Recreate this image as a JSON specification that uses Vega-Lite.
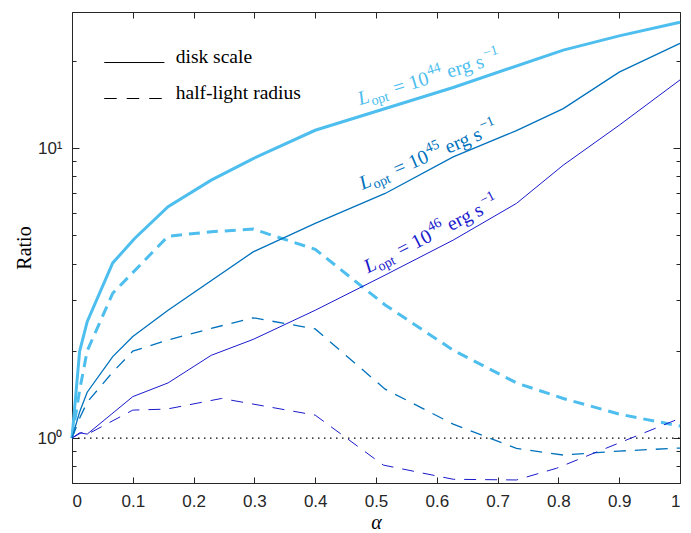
{
  "$schema": "https://vega.github.io/schema/vega-lite/v6.json",
  "width": 608,
  "height": 471,
  "autosize": {"type": "none"},
  "padding": {"left": 72, "top": 12, "right": 11, "bottom": 50},
  "background": "white",
  "config": {
    "view": {"stroke": "#262626", "strokeWidth": 1},
    "axis": {
      "grid": false,
      "domainColor": "#262626",
      "tickColor": "#262626",
      "labelColor": "#262626",
      "titleColor": "#000000",
      "labelFont": "Liberation Sans",
      "labelFontSize": 17,
      "domainWidth": 1,
      "tickWidth": 1
    }
  },
  "datasets": {
    "curves": [
      {"a": 0, "r": 1.0, "L": "L44", "k": "disk"},
      {"a": 0.0125, "r": 1.99, "L": "L44", "k": "disk"},
      {"a": 0.025, "r": 2.52, "L": "L44", "k": "disk"},
      {"a": 0.067, "r": 4.02, "L": "L44", "k": "disk"},
      {"a": 0.103, "r": 4.88, "L": "L44", "k": "disk"},
      {"a": 0.158, "r": 6.28, "L": "L44", "k": "disk"},
      {"a": 0.229, "r": 7.76, "L": "L44", "k": "disk"},
      {"a": 0.298, "r": 9.21, "L": "L44", "k": "disk"},
      {"a": 0.4, "r": 11.53, "L": "L44", "k": "disk"},
      {"a": 0.627, "r": 16.2, "L": "L44", "k": "disk"},
      {"a": 0.808, "r": 21.8, "L": "L44", "k": "disk"},
      {"a": 0.9, "r": 24.4, "L": "L44", "k": "disk"},
      {"a": 1.0, "r": 27.2, "L": "L44", "k": "disk"},

      {"a": 0, "r": 1.0, "L": "L44", "k": "half"},
      {"a": 0.0125, "r": 1.46, "L": "L44", "k": "half"},
      {"a": 0.025, "r": 2.0, "L": "L44", "k": "half"},
      {"a": 0.067, "r": 3.16, "L": "L44", "k": "half"},
      {"a": 0.158, "r": 4.97, "L": "L44", "k": "half"},
      {"a": 0.229, "r": 5.15, "L": "L44", "k": "half"},
      {"a": 0.298, "r": 5.26, "L": "L44", "k": "half"},
      {"a": 0.4, "r": 4.48, "L": "L44", "k": "half"},
      {"a": 0.515, "r": 2.88, "L": "L44", "k": "half"},
      {"a": 0.627, "r": 2.01, "L": "L44", "k": "half"},
      {"a": 0.731, "r": 1.55, "L": "L44", "k": "half"},
      {"a": 0.808, "r": 1.37, "L": "L44", "k": "half"},
      {"a": 0.9, "r": 1.21, "L": "L44", "k": "half"},
      {"a": 1.0, "r": 1.10, "L": "L44", "k": "half"},

      {"a": 0, "r": 1.0, "L": "L45", "k": "disk"},
      {"a": 0.0125, "r": 1.23, "L": "L45", "k": "disk"},
      {"a": 0.025, "r": 1.44, "L": "L45", "k": "disk"},
      {"a": 0.067, "r": 1.91, "L": "L45", "k": "disk"},
      {"a": 0.1, "r": 2.24, "L": "L45", "k": "disk"},
      {"a": 0.158, "r": 2.76, "L": "L45", "k": "disk"},
      {"a": 0.298, "r": 4.39, "L": "L45", "k": "disk"},
      {"a": 0.4, "r": 5.5, "L": "L45", "k": "disk"},
      {"a": 0.515, "r": 6.98, "L": "L45", "k": "disk"},
      {"a": 0.627, "r": 9.33, "L": "L45", "k": "disk"},
      {"a": 0.731, "r": 11.5, "L": "L45", "k": "disk"},
      {"a": 0.808, "r": 13.7, "L": "L45", "k": "disk"},
      {"a": 0.9, "r": 18.3, "L": "L45", "k": "disk"},
      {"a": 1.0, "r": 23.0, "L": "L45", "k": "disk"},

      {"a": 0, "r": 1.0, "L": "L45", "k": "half"},
      {"a": 0.0125, "r": 1.17, "L": "L45", "k": "half"},
      {"a": 0.025, "r": 1.33, "L": "L45", "k": "half"},
      {"a": 0.067, "r": 1.69, "L": "L45", "k": "half"},
      {"a": 0.1, "r": 1.995, "L": "L45", "k": "half"},
      {"a": 0.158, "r": 2.18, "L": "L45", "k": "half"},
      {"a": 0.229, "r": 2.39, "L": "L45", "k": "half"},
      {"a": 0.298, "r": 2.6, "L": "L45", "k": "half"},
      {"a": 0.4, "r": 2.38, "L": "L45", "k": "half"},
      {"a": 0.515, "r": 1.475, "L": "L45", "k": "half"},
      {"a": 0.627, "r": 1.117, "L": "L45", "k": "half"},
      {"a": 0.731, "r": 0.921, "L": "L45", "k": "half"},
      {"a": 0.808, "r": 0.874, "L": "L45", "k": "half"},
      {"a": 0.9, "r": 0.902, "L": "L45", "k": "half"},
      {"a": 1.0, "r": 0.924, "L": "L45", "k": "half"},

      {"a": 0, "r": 1.0, "L": "L46", "k": "disk"},
      {"a": 0.0125, "r": 1.043, "L": "L46", "k": "disk"},
      {"a": 0.025, "r": 1.032, "L": "L46", "k": "disk"},
      {"a": 0.1, "r": 1.39, "L": "L46", "k": "disk"},
      {"a": 0.158, "r": 1.55, "L": "L46", "k": "disk"},
      {"a": 0.229, "r": 1.93, "L": "L46", "k": "disk"},
      {"a": 0.298, "r": 2.19, "L": "L46", "k": "disk"},
      {"a": 0.4, "r": 2.76, "L": "L46", "k": "disk"},
      {"a": 0.515, "r": 3.65, "L": "L46", "k": "disk"},
      {"a": 0.627, "r": 4.82, "L": "L46", "k": "disk"},
      {"a": 0.731, "r": 6.45, "L": "L46", "k": "disk"},
      {"a": 0.808, "r": 8.74, "L": "L46", "k": "disk"},
      {"a": 0.9, "r": 12.0, "L": "L46", "k": "disk"},
      {"a": 1.0, "r": 17.2, "L": "L46", "k": "disk"},

      {"a": 0, "r": 1.0, "L": "L46", "k": "half"},
      {"a": 0.016, "r": 1.046, "L": "L46", "k": "half"},
      {"a": 0.027, "r": 1.035, "L": "L46", "k": "half"},
      {"a": 0.1, "r": 1.249, "L": "L46", "k": "half"},
      {"a": 0.156, "r": 1.259, "L": "L46", "k": "half"},
      {"a": 0.246, "r": 1.37, "L": "L46", "k": "half"},
      {"a": 0.4, "r": 1.2, "L": "L46", "k": "half"},
      {"a": 0.512, "r": 0.807, "L": "L46", "k": "half"},
      {"a": 0.627, "r": 0.721, "L": "L46", "k": "half"},
      {"a": 0.731, "r": 0.717, "L": "L46", "k": "half"},
      {"a": 0.797, "r": 0.787, "L": "L46", "k": "half"},
      {"a": 1.0, "r": 1.17, "L": "L46", "k": "half"}
    ],
    "labels": [
      {"a": 0.4737, "r": 14.07, "L": "L44", "sup": "44"},
      {"a": 0.478, "r": 7.17, "L": "L45", "sup": "45"},
      {"a": 0.487, "r": 3.70, "L": "L46", "sup": "46"}
    ],
    "legend": [
      {"a1": 0.053, "a2": 0.152, "ta": 0.1706, "r": 19.75, "k": "disk", "text": "disk scale"},
      {"a1": 0.053, "a2": 0.150, "ta": 0.1706, "r": 14.84, "k": "half", "text": "half-light radius"}
    ],
    "ref": [{"a1": 0, "a2": 1, "r": 1}]
  },
  "resolve": {"axis": {"x": "independent", "y": "independent"}},
  "layer": [
    {
      "data": {"name": "ref"},
      "mark": {"type": "rule", "color": "#000000", "strokeWidth": 1.2, "strokeDash": [1.5, 4.5]},
      "encoding": {
        "x": {"field": "a1", "type": "quantitative", "scale": {"domain": [0, 1], "nice": false, "zero": false}, "axis": null},
        "x2": {"field": "a2"},
        "y": {"field": "r", "type": "quantitative", "scale": {"type": "log", "domain": [0.7, 29.5], "nice": false},
          "axis": {"orient": "left", "values": [0.8, 0.9, 2, 3, 4, 5, 6, 7, 8, 9, 20], "labels": false, "tickSize": -4, "domain": false, "title": null}}
      }
    },
    {
      "data": {"name": "curves"},
      "transform": [{"filter": "datum.k == 'half'"}],
      "mark": {"type": "line"},
      "encoding": {
        "x": {"field": "a", "type": "quantitative", "scale": {"domain": [0, 1], "nice": false, "zero": false},
          "axis": {"orient": "top", "values": [0.1, 0.2, 0.3, 0.4, 0.5, 0.6, 0.7, 0.8, 0.9], "labels": false, "tickSize": -6, "title": null}},
        "y": {"field": "r", "type": "quantitative", "scale": {"type": "log", "domain": [0.7, 29.5], "nice": false},
          "axis": {"orient": "right", "values": [1, 10], "labels": false, "tickSize": -7, "title": null}},
        "color": {"field": "L", "type": "nominal", "scale": {"domain": ["L44", "L45", "L46"], "range": ["#4DBEEE", "#0072BD", "#1A1ACC"]}, "legend": null},
        "strokeWidth": {"field": "L", "type": "nominal", "scale": {"type": "ordinal", "domain": ["L44", "L45", "L46"], "range": [3, 1.3, 1]}, "legend": null},
        "strokeDash": {"field": "L", "type": "nominal", "scale": {"type": "ordinal", "domain": ["L44", "L45", "L46"], "range": [[11, 7], [12, 9], [12, 9]]}, "legend": null}
      }
    },
    {
      "data": {"name": "curves"},
      "transform": [{"filter": "datum.k == 'disk'"}],
      "mark": {"type": "line"},
      "encoding": {
        "x": {"field": "a", "type": "quantitative", "scale": {"domain": [0, 1], "nice": false, "zero": false},
          "axis": {"orient": "bottom", "values": [0, 0.1, 0.2, 0.3, 0.4, 0.5, 0.6, 0.7, 0.8, 0.9, 1], "format": "~g", "tickSize": -6, "labelPadding": 16,
            "title": "α", "titleFont": "Liberation Serif", "titleFontStyle": "italic", "titleFontWeight": "normal", "titleFontSize": 20, "titlePadding": 3}},
        "y": {"field": "r", "type": "quantitative", "scale": {"type": "log", "domain": [0.7, 29.5], "nice": false},
          "axis": {"orient": "left", "values": [1, 10], "labelExpr": "datum.value == 1 ? '10⁰' : '10¹'", "tickSize": -7, "labelPadding": 17,
            "title": "Ratio", "titleFont": "Liberation Serif", "titleFontWeight": "normal", "titleFontSize": 20, "titlePadding": 3}},
        "color": {"field": "L", "type": "nominal", "scale": {"domain": ["L44", "L45", "L46"], "range": ["#4DBEEE", "#0072BD", "#1A1ACC"]}, "legend": null},
        "strokeWidth": {"field": "L", "type": "nominal", "scale": {"type": "ordinal", "domain": ["L44", "L45", "L46"], "range": [3, 1.3, 1]}, "legend": null}
      }
    },
    {
      "data": {"name": "labels"},
      "mark": {"type": "text", "text": "L", "font": "Liberation Serif", "fontStyle": "italic", "fontSize": 20, "align": "left", "baseline": "alphabetic"},
      "encoding": {
        "x": {"field": "a", "type": "quantitative", "scale": {"domain": [0, 1], "nice": false, "zero": false}, "axis": null},
        "y": {"field": "r", "type": "quantitative", "scale": {"type": "log", "domain": [0.7, 29.5], "nice": false},
          "axis": {"orient": "right", "values": [0.8, 0.9, 2, 3, 4, 5, 6, 7, 8, 9, 20], "labels": false, "tickSize": -4, "domain": false, "title": null}},
        "color": {"field": "L", "type": "nominal", "scale": {"domain": ["L44", "L45", "L46"], "range": ["#4DBEEE", "#0072BD", "#1A1ACC"]}, "legend": null},
        "angle": {"field": "L", "type": "nominal", "scale": {"type": "ordinal", "domain": ["L44", "L45", "L46"], "range": [343, 337, 333]}, "legend": null}
      }
    },
    {
      "data": {"name": "labels"},
      "mark": {"type": "text", "text": "opt", "font": "Liberation Serif", "fontSize": 14, "align": "left", "baseline": "alphabetic", "dx": 12, "dy": 4},
      "encoding": {
        "x": {"field": "a", "type": "quantitative", "axis": null},
        "y": {"field": "r", "type": "quantitative", "axis": null},
        "color": {"field": "L", "type": "nominal", "legend": null},
        "angle": {"field": "L", "type": "nominal", "scale": {"type": "ordinal", "domain": ["L44", "L45", "L46"], "range": [343, 337, 333]}, "legend": null}
      }
    },
    {
      "data": {"name": "labels"},
      "mark": {"type": "text", "text": "= 10", "font": "Liberation Serif", "fontSize": 20, "align": "left", "baseline": "alphabetic", "dx": 37},
      "encoding": {
        "x": {"field": "a", "type": "quantitative", "axis": null},
        "y": {"field": "r", "type": "quantitative", "axis": null},
        "color": {"field": "L", "type": "nominal", "legend": null},
        "angle": {"field": "L", "type": "nominal", "scale": {"type": "ordinal", "domain": ["L44", "L45", "L46"], "range": [343, 337, 333]}, "legend": null}
      }
    },
    {
      "data": {"name": "labels"},
      "mark": {"type": "text", "font": "Liberation Serif", "fontSize": 14, "align": "left", "baseline": "alphabetic", "dx": 74, "dy": -9},
      "encoding": {
        "x": {"field": "a", "type": "quantitative", "axis": null},
        "y": {"field": "r", "type": "quantitative", "axis": null},
        "text": {"field": "sup"},
        "color": {"field": "L", "type": "nominal", "legend": null},
        "angle": {"field": "L", "type": "nominal", "scale": {"type": "ordinal", "domain": ["L44", "L45", "L46"], "range": [343, 337, 333]}, "legend": null}
      }
    },
    {
      "data": {"name": "labels"},
      "mark": {"type": "text", "text": "erg s", "font": "Liberation Serif", "fontSize": 20, "align": "left", "baseline": "alphabetic", "dx": 93},
      "encoding": {
        "x": {"field": "a", "type": "quantitative", "axis": null},
        "y": {"field": "r", "type": "quantitative", "axis": null},
        "color": {"field": "L", "type": "nominal", "legend": null},
        "angle": {"field": "L", "type": "nominal", "scale": {"type": "ordinal", "domain": ["L44", "L45", "L46"], "range": [343, 337, 333]}, "legend": null}
      }
    },
    {
      "data": {"name": "labels"},
      "mark": {"type": "text", "text": "−1", "font": "Liberation Serif", "fontSize": 14, "align": "left", "baseline": "alphabetic", "dx": 133, "dy": -9},
      "encoding": {
        "x": {"field": "a", "type": "quantitative", "axis": null},
        "y": {"field": "r", "type": "quantitative", "axis": null},
        "color": {"field": "L", "type": "nominal", "legend": null},
        "angle": {"field": "L", "type": "nominal", "scale": {"type": "ordinal", "domain": ["L44", "L45", "L46"], "range": [343, 337, 333]}, "legend": null}
      }
    },
    {
      "data": {"name": "legend"},
      "transform": [{"filter": "datum.k == 'disk'"}],
      "mark": {"type": "rule", "color": "#000000", "strokeWidth": 1},
      "encoding": {
        "x": {"field": "a1", "type": "quantitative", "axis": null},
        "x2": {"field": "a2"},
        "y": {"field": "r", "type": "quantitative", "axis": null}
      }
    },
    {
      "data": {"name": "legend"},
      "transform": [{"filter": "datum.k == 'half'"}],
      "mark": {"type": "rule", "color": "#000000", "strokeWidth": 1, "strokeDash": [12.5, 10]},
      "encoding": {
        "x": {"field": "a1", "type": "quantitative", "axis": null},
        "x2": {"field": "a2"},
        "y": {"field": "r", "type": "quantitative", "axis": null}
      }
    },
    {
      "data": {"name": "legend"},
      "mark": {"type": "text", "font": "Liberation Serif", "fontSize": 19.5, "align": "left", "baseline": "alphabetic", "color": "#000000"},
      "encoding": {
        "x": {"field": "ta", "type": "quantitative", "axis": null},
        "y": {"field": "r", "type": "quantitative", "axis": null},
        "text": {"field": "text"}
      }
    }
  ]
}
